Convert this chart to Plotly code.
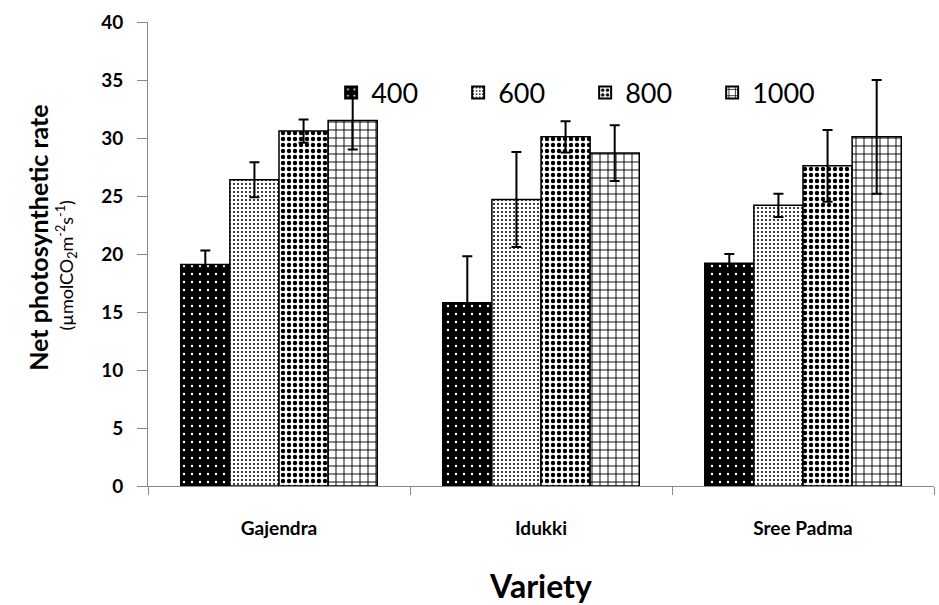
import plotly.graph_objects as go

varieties = ["Gajendra", "Idukki", "Sree Padma"]
series_names = ["400", "600", "800", "1000"]
means = {
    "400": [19.1, 15.8, 19.2],
    "600": [26.4, 24.7, 24.2],
    "800": [30.6, 30.1, 27.6],
    "1000": [31.5, 28.7, 30.1],
}
errors = {
    "400": [1.2, 4.0, 0.8],
    "600": [1.5, 4.1, 1.0],
    "800": [1.0, 1.35, 3.1],
    "1000": [2.5, 2.4, 4.9],
}
y_ticks = [0, 5, 10, 15, 20, 25, 30, 35, 40]

patterns = {
    "400": dict(shape=".", bgcolor="black", fgcolor="white", size=8, solidity=0.07, fillmode="replace"),
    "600": dict(shape=".", bgcolor="white", fgcolor="black", size=4, solidity=0.2, fillmode="replace"),
    "800": dict(shape=".", bgcolor="white", fgcolor="black", size=6, solidity=0.42, fillmode="replace"),
    "1000": dict(shape="+", bgcolor="white", fgcolor="black", size=8, solidity=0.22, fillmode="replace"),
}

FONT = "Lato"
fig = go.Figure()
for s in series_names:
    fig.add_trace(go.Bar(
        x=varieties, y=means[s], name=s,
        marker=dict(color="white", pattern=patterns[s], line=dict(color="black", width=1.5)),
        error_y=dict(type="data", array=errors[s], color="black", thickness=2, width=5),
    ))

fig.update_layout(
    width=939, height=605,
    margin=dict(l=148, r=5, t=22, b=119),
    paper_bgcolor="white", plot_bgcolor="white",
    barmode="group", bargap=0.25, bargroupgap=0,
    font=dict(family=FONT, color="black"),
    legend=dict(orientation="h", x=0.233, y=0.847, xanchor="left", yanchor="middle",
                font=dict(size=27, family=FONT, color="black"),
                entrywidth=82, entrywidthmode="pixels",
                bgcolor="rgba(0,0,0,0)", itemsizing="constant"),
    showlegend=True,
)
fig.update_yaxes(range=[0, 40], tickvals=y_ticks, ticks="outside", ticklen=10,
                 tickcolor="#888", showline=True, linecolor="#888", linewidth=1,
                 showgrid=False, zeroline=False, ticklabelstandoff=10,
                 tickfont=dict(size=19, family=FONT, color="black", weight="bold"))
fig.update_xaxes(ticks="outside", tickson="boundaries", ticklen=8, tickcolor="#888",
                 showline=True, linecolor="#888", linewidth=1, showgrid=False,
                 ticklabelstandoff=25,
                 tickfont=dict(size=19, family=FONT, color="black", weight="bold"),
                 title=dict(text="<b>Variety</b>", font=dict(size=32, family=FONT, color="black"),
                            standoff=38))

fig.add_annotation(text="<b>Net photosynthetic rate</b>", xref="paper", yref="paper",
                   x=(38 - 148) / 786, xanchor="center", y=0.535, textangle=-90, showarrow=False,
                   font=dict(size=25, family=FONT, color="black"))
fig.add_annotation(text="(µmolCO<sub>2</sub>m<sup>-2</sup>s<sup>-1</sup>)", xref="paper", yref="paper",
                   x=(66 - 148) / 786, xanchor="center", y=0.475, textangle=-90, showarrow=False,
                   font=dict(size=18, family=FONT, color="black"))

fig.write_html("out.html")
